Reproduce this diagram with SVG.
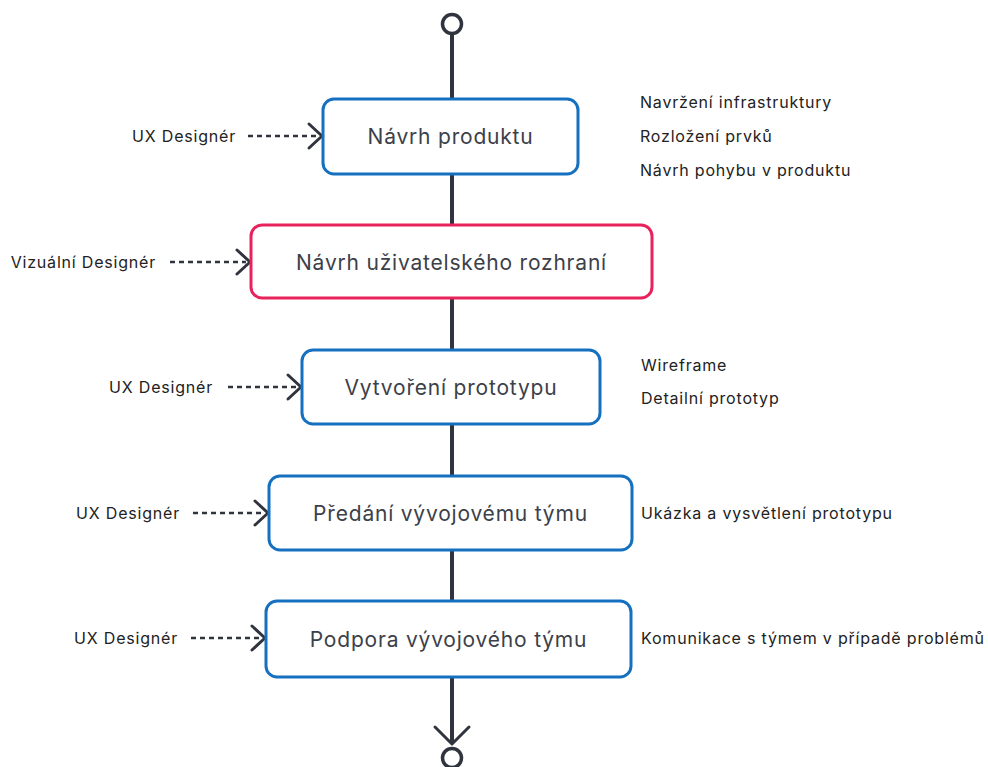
<svg xmlns="http://www.w3.org/2000/svg" width="988" height="767" viewBox="0 0 988 767">
<defs>
<style>
.box{fill:#fff;stroke:#1670c0;stroke-width:3}
.red{stroke:#e8225a}
.bt{font-family:Inter,Roboto,"Liberation Sans",sans-serif;font-size:21px;letter-spacing:0.8px;fill:#3c4049;text-anchor:middle;dominant-baseline:central}
.st{font-family:Inter,Roboto,"Liberation Sans",sans-serif;font-size:16px;letter-spacing:0.8px;fill:#222;dominant-baseline:central}
.main{stroke:#30343e;stroke-width:4;fill:none}
.dash{stroke:#30343e;stroke-width:2.5;stroke-dasharray:5 4;fill:none}
.chev{stroke:#30343e;stroke-width:3;fill:none;stroke-linecap:round;stroke-linejoin:round}
.end{fill:#fff;stroke:#30343e;stroke-width:3.5}
</style>
</defs>
<rect width="988" height="767" fill="#fff"/>
<g id="connectors">
<line class="main" x1="452" y1="34" x2="452" y2="743"/>
<circle class="end" cx="452" cy="24" r="9.5"/>
<circle class="end" cx="452" cy="758" r="9.5"/>
<polyline class="chev" points="435,727 452,744 469,727"/>
<line class="dash" x1="248" y1="136" x2="318" y2="136"/>
<polyline class="chev" points="309,124 322,136 309,148"/>
<line class="dash" x1="170" y1="262" x2="246" y2="262"/>
<polyline class="chev" points="237,250 250,262 237,274"/>
<line class="dash" x1="228" y1="387" x2="297" y2="387"/>
<polyline class="chev" points="288,375 301,387 288,399"/>
<line class="dash" x1="193" y1="513" x2="264" y2="513"/>
<polyline class="chev" points="255,501 268,513 255,525"/>
<line class="dash" x1="191" y1="638" x2="261" y2="638"/>
<polyline class="chev" points="252,626 265,638 252,650"/>
</g>
<g id="n1">
<rect class="box" x="323" y="99" width="255" height="75" rx="11"/>
<text class="bt" x="450.5" y="136">Návrh produktu</text>
</g>
<g id="n2">
<rect class="box red" x="251" y="225" width="401" height="73" rx="11"/>
<text class="bt" x="451.5" y="262">Návrh uživatelského rozhraní</text>
</g>
<g id="n3">
<rect class="box" x="302" y="350" width="298" height="74" rx="11"/>
<text class="bt" x="451" y="387">Vytvoření prototypu</text>
</g>
<g id="n4">
<rect class="box" x="269" y="476" width="363" height="74" rx="11"/>
<text class="bt" x="450.5" y="513">Předání vývojovému týmu</text>
</g>
<g id="n5">
<rect class="box" x="266" y="601" width="365" height="76" rx="11"/>
<text class="bt" x="448.5" y="639">Podpora vývojového týmu</text>
</g>
<g id="labels">
<text class="st" x="236" y="136" text-anchor="end">UX Designér</text>
<text class="st" x="156" y="262" text-anchor="end">Vizuální Designér</text>
<text class="st" x="213" y="387" text-anchor="end">UX Designér</text>
<text class="st" x="180" y="513" text-anchor="end">UX Designér</text>
<text class="st" x="178" y="638" text-anchor="end">UX Designér</text>
<text class="st" x="640" y="102">Navržení infrastruktury</text>
<text class="st" x="640" y="136">Rozložení prvků</text>
<text class="st" x="640" y="170">Návrh pohybu v produktu</text>
<text class="st" x="641" y="365">Wireframe</text>
<text class="st" x="641" y="398">Detailní prototyp</text>
<text class="st" x="641" y="513">Ukázka a vysvětlení prototypu</text>
<text class="st" x="641" y="638">Komunikace s týmem v případě problémů</text>
</g>
</svg>
